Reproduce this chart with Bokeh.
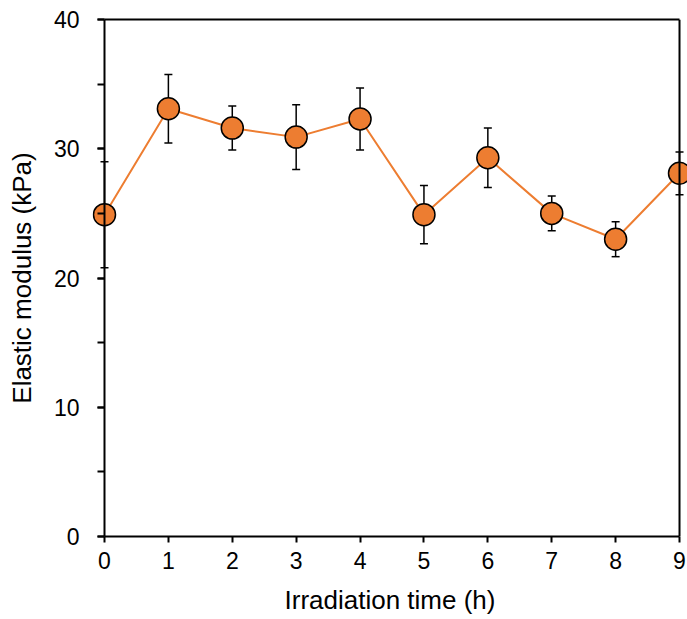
from bokeh.plotting import figure
from bokeh.models import (Range1d, LinearAxis, SingleIntervalTicker, FixedTicker,
                          Whisker, TeeHead, ColumnDataSource, Span)
from bokeh.embed import file_html
from bokeh.resources import INLINE

# ---- data ----
hours = [0, 1, 2, 3, 4, 5, 6, 7, 8, 9]
modulus = [24.9, 33.1, 31.6, 30.9, 32.3, 24.9, 29.3, 25.0, 23.0, 28.1]
error = [4.1, 2.65, 1.7, 2.5, 2.4, 2.25, 2.3, 1.35, 1.35, 1.65]
x_ticks = [0, 1, 2, 3, 4, 5, 6, 7, 8, 9]
y_tick_interval = 10
x_title = "Irradiation time (h)"
y_title = "Elastic modulus (kPa)"

upper = [m + e for m, e in zip(modulus, error)]
lower = [m - e for m, e in zip(modulus, error)]
src = ColumnDataSource(dict(x=hours, y=modulus, upper=upper, lower=lower))

ORANGE = "#ED7D31"
FONT = "Liberation Sans"

p = figure(width=687, height=619,
           x_range=Range1d(-0.1878, 9.125), y_range=Range1d(0, 40),
           output_backend="svg", toolbar_location=None,
           x_axis_location=None, y_axis_location=None,
           min_border_left=92, min_border_right=0, min_border_top=19,
           min_border_bottom=83)
p.grid.visible = False
p.outline_line_color = None


def bare(axis):
    axis.major_tick_out = 0
    axis.major_tick_in = 0
    axis.minor_tick_out = 0
    axis.minor_tick_in = 0
    axis.major_label_text_font_size = "0px"


# y axis tick labels at the frame edge, ticks shifted onto x = 0
yaxis = LinearAxis(ticker=SingleIntervalTicker(interval=y_tick_interval, num_minor_ticks=2))
yaxis.axis_line_color = None
yaxis.major_tick_line_width = 2
yaxis.minor_tick_line_width = 2
yaxis.major_tick_out = -5
yaxis.major_tick_in = 12
yaxis.minor_tick_out = -5
yaxis.minor_tick_in = 12
yaxis.major_label_standoff = 18
yaxis.major_label_text_font = FONT
yaxis.major_label_text_font_size = "23px"
yaxis.major_label_text_color = "black"
p.add_layout(yaxis, "left")

# y title (own axis so it can be centred like the reference)
ytitle = LinearAxis(ticker=FixedTicker(ticks=[]), bounds=(0, 37.9), axis_label=y_title)
bare(ytitle)
ytitle.axis_line_color = None
ytitle.axis_label_standoff = 14
ytitle.axis_label_text_font = FONT
ytitle.axis_label_text_font_size = "26px"
ytitle.axis_label_text_font_style = "normal"
ytitle.axis_label_text_color = "black"
p.add_layout(ytitle, "left")

# y axis line at x = 0
p.add_layout(Span(location=0, dimension="height", line_color="black", line_width=2))

# x axis
xaxis = LinearAxis(ticker=FixedTicker(ticks=x_ticks), bounds=(0, 9))
xaxis.axis_line_width = 2
xaxis.major_tick_line_width = 2
xaxis.major_tick_out = 6
xaxis.major_tick_in = 0
xaxis.minor_tick_out = 0
xaxis.minor_tick_in = 0
xaxis.major_label_standoff = 9
xaxis.major_label_text_font = FONT
xaxis.major_label_text_font_size = "23px"
xaxis.major_label_text_color = "black"
p.add_layout(xaxis, "below")

# x title
xtitle = LinearAxis(ticker=FixedTicker(ticks=[]), bounds=(0, 8.51), axis_label=x_title)
bare(xtitle)
xtitle.axis_line_color = None
xtitle.axis_label_standoff = 13
xtitle.axis_label_text_font = FONT
xtitle.axis_label_text_font_size = "26px"
xtitle.axis_label_text_font_style = "normal"
xtitle.axis_label_text_color = "black"
p.add_layout(xtitle, "below")

# top spine
top = LinearAxis(ticker=FixedTicker(ticks=[]), bounds=(0, 9))
bare(top)
top.axis_line_width = 2
p.add_layout(top, "above")

# right spine
p.add_layout(Span(location=9, dimension="height", line_color="black", line_width=2))

# error bars
whisk = Whisker(source=src, base="x", upper="upper", lower="lower",
                line_color="black", line_width=1.5, level="underlay",
                upper_head=TeeHead(size=8, line_color="black", line_width=1.5),
                lower_head=TeeHead(size=8, line_color="black", line_width=1.5))
p.add_layout(whisk)

p.line("x", "y", source=src, line_color=ORANGE, line_width=2)
p.scatter("x", "y", source=src, size=22, fill_color=ORANGE,
          line_color="black", line_width=1.5)

open("out.html", "w").write(file_html(p, INLINE))
